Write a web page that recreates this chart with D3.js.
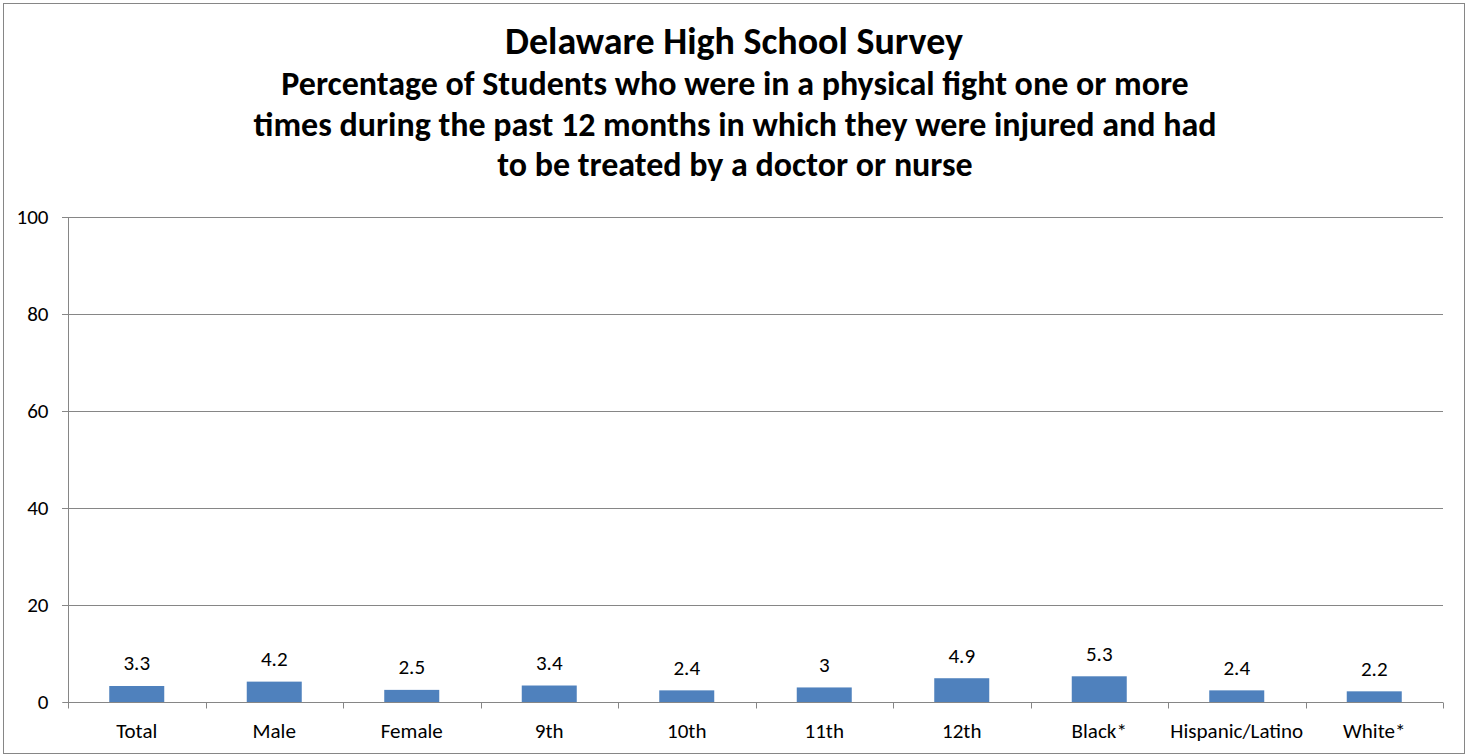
<!DOCTYPE html>
<html>
<head>
<meta charset="utf-8">
<script src="https://cdn.jsdelivr.net/npm/d3@7"></script>
<style>
  html, body { margin: 0; padding: 0; background: #fff; }
  svg { display: block; }
  text { font-family: Calibri, Carlito, Lato, "Open Sans", sans-serif; fill: #000; }
</style>
</head>
<body>
<svg id="chart" width="1468" height="755"></svg>
<script>
const categories = ["Total", "Male", "Female", "9th", "10th", "11th", "12th", "Black*", "Hispanic/Latino", "White*"];
const values = [3.3, 4.2, 2.5, 3.4, 2.4, 3, 4.9, 5.3, 2.4, 2.2];
const yTicks = [0, 20, 40, 60, 80, 100];
const titleLines = ["Delaware High School Survey"];
const subtitleLines = [
  "Percentage of Students who were in a physical fight one or more",
  "times during the past 12 months in which they were injured and had",
  "to be treated by a doctor or nurse"
];

const svg = d3.select("#chart");
const W = 1468, H = 755;
const plot = { left: 68, right: 1443, top: 217, bottom: 702 };
const gray = "#868686";

svg.append("rect").attr("x", 3.5).attr("y", 3.5).attr("width", W - 7).attr("height", H - 5)
  .attr("fill", "#fff").attr("stroke", gray).attr("stroke-width", 1);

// fit font size so a text reaches a target width
function fitSize(sel, target) {
  const base = 20;
  sel.style("font-size", base + "px");
  const w = sel.node().getComputedTextLength();
  return base * target / w;
}

const x = d3.scaleBand().domain(categories).range([plot.left, plot.right]).paddingInner(0.6).paddingOuter(0.3);
const xb = d3.scaleBand().domain(categories).range([plot.left, plot.right]);
const y = d3.scaleLinear().domain([0, 100]).range([plot.bottom, plot.top]);

// gridlines
svg.append("g").selectAll("line").data(yTicks.filter(t => t > 0)).join("line")
  .attr("x1", plot.left - 6).attr("x2", plot.right)
  .attr("y1", d => Math.round(y(d)) + 0.5).attr("y2", d => Math.round(y(d)) + 0.5)
  .attr("stroke", gray).attr("stroke-width", 1);

// bars
svg.append("g").selectAll("rect").data(categories).join("rect")
  .attr("x", d => xb(d) + xb.bandwidth() / 2 - 27.5)
  .attr("width", 55)
  .attr("y", (d, i) => y(values[i]))
  .attr("height", (d, i) => y(0) - y(values[i]))
  .attr("fill", "#4F81BD");

// y axis
const yAxis = svg.append("g").attr("transform", `translate(${plot.left + 0.5},0)`)
  .call(d3.axisLeft(y).tickValues(yTicks).tickSize(6).tickPadding(14).tickFormat(d3.format("d")));
yAxis.select(".domain").attr("stroke", gray).attr("d", `M-6,${plot.top + 0.5}H0V${plot.bottom + 0.5}H-6`);
yAxis.selectAll(".tick line").attr("stroke", gray);

// x axis
const xAxis = svg.append("g").attr("transform", `translate(0,${plot.bottom + 0.5})`);
xAxis.append("line").attr("x1", plot.left).attr("x2", plot.right).attr("stroke", gray);
const bounds = categories.map(c => xb(c)).concat([plot.right]);
xAxis.selectAll("line.tk").data(bounds).join("line").attr("class", "tk")
  .attr("x1", d => Math.round(d) + 0.5).attr("x2", d => Math.round(d) + 0.5)
  .attr("y1", 0).attr("y2", 6).attr("stroke", gray);

// measure label font size
const probe = svg.append("text").text("Hispanic/Latino");
const labelSize = fitSize(probe, 133);
probe.remove();

xAxis.selectAll("text").data(categories).join("text")
  .attr("x", d => xb(d) + xb.bandwidth() / 2).attr("y", 35)
  .attr("text-anchor", "middle").style("font-size", labelSize + "px").text(d => d);

yAxis.selectAll(".tick text").style("font-size", labelSize + "px").attr("font-family", null).attr("fill", "#000");
yAxis.attr("font-family", null).attr("font-size", null);

// value labels
svg.append("g").selectAll("text").data(categories).join("text")
  .attr("x", d => xb(d) + xb.bandwidth() / 2)
  .attr("y", (d, i) => y(values[i]) - 15.5)
  .attr("text-anchor", "middle").style("font-size", labelSize + "px")
  .text((d, i) => values[i]);

// titles
const t = svg.append("text").attr("x", 734).attr("y", 54).attr("text-anchor", "middle")
  .style("font-weight", "bold").text(titleLines[0]);
t.style("font-size", fitSize(t, 458) + "px");

const sub0 = svg.append("text").style("font-weight", "bold").text(subtitleLines[0]);
const subSize = fitSize(sub0, 908);
sub0.remove();
svg.append("g").selectAll("text").data(subtitleLines).join("text")
  .attr("x", 735).attr("y", (d, i) => 95 + i * 40.5).attr("text-anchor", "middle")
  .style("font-weight", "bold").style("font-size", subSize + "px").text(d => d);
</script>
</body>
</html>
